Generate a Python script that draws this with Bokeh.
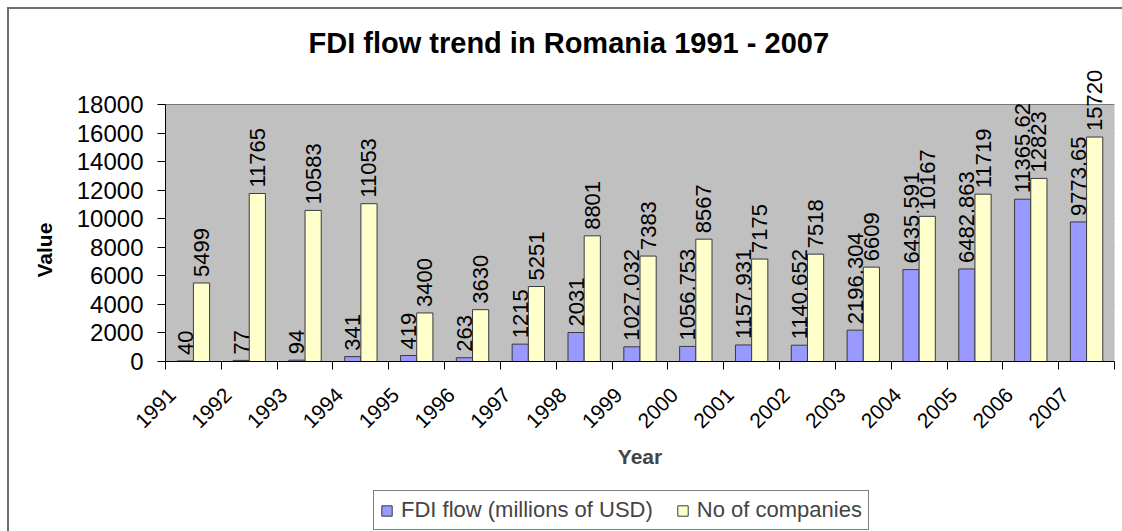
import numpy as np
from bokeh.plotting import figure
from bokeh.layouts import column
from bokeh.core.properties import value
from bokeh.models import (ColumnDataSource, LabelSet, FixedTicker, Legend,
                          LegendItem, Range1d, Title, BoxAnnotation)
from bokeh.embed import file_html
from bokeh.resources import INLINE

# ---------------- data ----------------
years = ["1991", "1992", "1993", "1994", "1995", "1996", "1997", "1998", "1999",
         "2000", "2001", "2002", "2003", "2004", "2005", "2006", "2007"]
fdi_flow = [40, 77, 94, 341, 419, 263, 1215, 2031, 1027.032, 1056.753, 1157.931,
            1140.652, 2196.304, 6435.591, 6482.863, 11365.62, 9773.65]
companies = [5499, 11765, 10583, 11053, 3400, 3630, 5251, 8801, 7383, 8567, 7175,
             7518, 6609, 10167, 11719, 12823, 15720]
y_ticks = [0, 2000, 4000, 6000, 8000, 10000, 12000, 14000, 16000, 18000]
series_names = ["FDI flow (millions of USD)", "No of companies"]
title_text = "FDI flow trend in Romania 1991 - 2007"
x_title = "Year"
y_title = "Value"

FONT = "Liberation Sans"
FDI_COLOR = "#9999ff"
COMP_COLOR = "#ffffcc"
EDGE = "#3a3a3a"


def fmt(v):
    return ("%.3f" % v).rstrip("0").rstrip(".")


n = len(years)
centers = np.arange(n) + 0.5
bw = 0.29
label_shift = 0.38

# frame extends above the grey plot area so that the tallest value label is not cut
grid_px, frame_px = 257, 301
y_top = y_ticks[-1] * frame_px / grid_px

src = ColumnDataSource(dict(
    xb=centers - bw / 2,
    xy=centers + bw / 2,
    fdi=fdi_flow,
    comp=companies,
    fdi_lbl=[fmt(v) for v in fdi_flow],
    comp_lbl=[fmt(v) for v in companies],
))

p = figure(width=1113, height=475,
           x_range=Range1d(0, n), y_range=Range1d(y_ticks[0], y_top),
           output_backend="svg", toolbar_location=None,
           min_border_left=156, min_border_right=8,
           min_border_top=51, min_border_bottom=123,
           background_fill_color="white", border_fill_color="white")
p.outline_line_color = None

# grey plot area
p.add_layout(BoxAnnotation(bottom=y_ticks[0], top=y_ticks[-1], fill_color="#c0c0c0",
                           fill_alpha=1, line_color="#808080", line_width=1,
                           level="underlay"))

r1 = p.vbar(x="xb", top="fdi", width=bw, source=src,
            fill_color=FDI_COLOR, line_color=EDGE, line_width=1)
r2 = p.vbar(x="xy", top="comp", width=bw, source=src,
            fill_color=COMP_COLOR, line_color=EDGE, line_width=1)

# data labels
for xcol, ycol, lcol in (("xb", "fdi", "fdi_lbl"), ("xy", "comp", "comp_lbl")):
    p.add_layout(LabelSet(x=xcol, y=ycol, text=lcol, source=src, angle=np.pi / 2,
                          text_align="left", text_baseline="middle", y_offset=6,
                          text_font=value(FONT), text_font_size="22px",
                          text_color="black"))

# grid
p.xgrid.visible = False
p.ygrid.ticker = FixedTicker(ticks=y_ticks)
p.ygrid.grid_line_color = "#2b2b2b"
p.ygrid.grid_line_width = 1

# y axis
p.yaxis.ticker = FixedTicker(ticks=y_ticks)
p.yaxis.bounds = (y_ticks[0], y_ticks[-1])
p.yaxis.major_tick_out = 8
p.yaxis.major_tick_in = 0
p.yaxis.minor_tick_line_color = None
p.yaxis.axis_line_color = "black"
p.yaxis.major_tick_line_color = "black"
p.yaxis.major_label_standoff = 14
p.yaxis.major_label_text_font = FONT
p.yaxis.major_label_text_font_size = "24px"
p.yaxis.major_label_text_color = "black"

# y axis title (left side, placed along the grey area)
p.add_layout(Title(text=y_title, align="left", offset=84, standoff=36,
                   vertical_align="bottom", text_font=FONT, text_font_size="21px",
                   text_font_style="bold", text_color="black"), "left")

# x axis
xt = list(centers - label_shift)
p.xaxis.ticker = FixedTicker(ticks=xt, minor_ticks=list(np.arange(n + 1)))
p.xaxis.major_label_overrides = {t: y for t, y in zip(xt, years)}
p.xaxis.major_tick_out = 0
p.xaxis.major_tick_in = 0
p.xaxis.minor_tick_out = 8
p.xaxis.minor_tick_in = 0
p.xaxis.minor_tick_line_color = "black"
p.xaxis.axis_line_color = "black"
p.xaxis.major_label_orientation = np.pi / 4
p.xaxis.major_label_standoff = 22
p.xaxis.major_label_text_font = FONT
p.xaxis.major_label_text_font_size = "21px"
p.xaxis.major_label_text_color = "black"
p.xaxis.axis_label = x_title
p.xaxis.axis_label_text_font = FONT
p.xaxis.axis_label_text_font_style = "bold"
p.xaxis.axis_label_text_font_size = "21px"
p.xaxis.axis_label_standoff = 8

# title
p.add_layout(Title(text=title_text, align="left", offset=143, standoff=4,
                   vertical_align="bottom", text_font=FONT, text_font_size="29px",
                   text_font_style="bold", text_color="black"), "above")

# legend strip below the chart (its bars lie far outside its own visible range;
# only their legend swatches are shown)
lg = figure(width=1113, height=47, x_range=Range1d(0, n), y_range=Range1d(1e6, 2e6),
            output_backend="svg", toolbar_location=None,
            x_axis_type=None, y_axis_type=None,
            min_border_left=0, min_border_right=0, min_border_top=0, min_border_bottom=0,
            background_fill_color="white", border_fill_color="white")
lg.outline_line_color = None
lg.grid.visible = False
k1 = lg.vbar(x="xb", top="fdi", width=bw, source=src,
             fill_color=FDI_COLOR, line_color=EDGE, line_width=1)
k2 = lg.vbar(x="xy", top="comp", width=bw, source=src,
             fill_color=COMP_COLOR, line_color=EDGE, line_width=1)
legend = Legend(items=[LegendItem(label=series_names[0], renderers=[k1]),
                       LegendItem(label=series_names[1], renderers=[k2])],
                orientation="horizontal", location=(208, 1),
                label_text_font=FONT, label_text_font_size="22px",
                glyph_width=13, glyph_height=13, label_standoff=8, spacing=23,
                padding=6, margin=0, border_line_color="black", border_line_width=1,
                background_fill_color="white", label_height=22)
lg.add_layout(legend, "center")

layout = column(p, lg, spacing=0,
                styles={"margin-top": "7px", "margin-left": "7px",
                        "border-top": "2px solid #6e6e6e",
                        "border-left": "2px solid #6e6e6e"})

open("out.html", "w").write(file_html(layout, INLINE))
